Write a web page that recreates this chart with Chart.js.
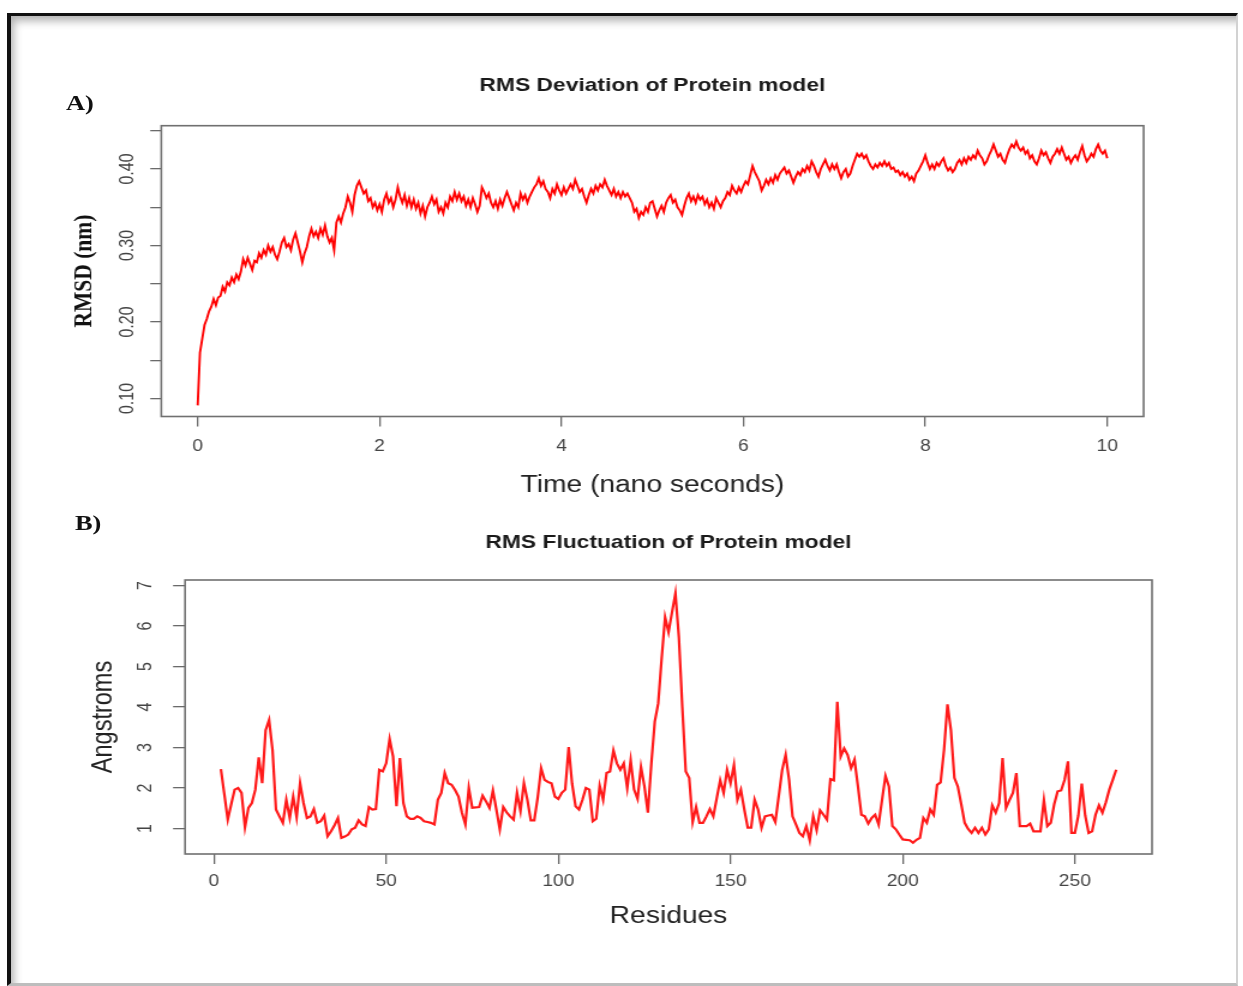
<!DOCTYPE html>
<html>
<head>
<meta charset="utf-8">
<script src="https://cdn.jsdelivr.net/npm/chart.js@4.4.1/dist/chart.umd.min.js"></script>
<style>
  html, body { margin: 0; padding: 0; background: #fff; }
  #page { position: relative; width: 1243px; height: 986px; overflow: hidden; background: #fff; }
  #frame { position: absolute; left: 7px; top: 13px; width: 1225px; height: 967px;
    border-top: 3px solid #111; border-left: 4px solid #111; border-right: 2px solid #d2d2d2; border-bottom: 3px solid #bdbdbd;
    box-shadow: inset 7px 9px 8px -4px rgba(0,0,0,0.30); }
  #stage { position: absolute; left: 0; top: 0; width: 1036px; height: 986px; transform: scaleX(1.2); transform-origin: 0 0; }
  #stage canvas { position: absolute; left: 0; }
  .panel { position: absolute; font-family: "Liberation Serif", serif; font-weight: bold; font-size: 22px; line-height: 22px; color: #111; }
</style>
</head>
<body>
<div id="page">
  <div id="frame"></div>
  <div id="stage">
    <canvas id="rmsd" width="1036" height="520" style="top:0px"></canvas>
    <canvas id="rmsf" width="1036" height="486" style="top:500px"></canvas>
    <div class="panel" style="left:55px;top:92px">A)</div>
    <div class="panel" style="left:62.5px;top:512px">B)</div>
  </div>
</div>
<script>
// ---------------- data ----------------
const rmsdTitle = 'RMS Deviation of Protein model';
const rmsdXTitle = 'Time (nano seconds)';
const rmsdYTitle = 'RMSD (nm)';
const rmsdTimeStep = 0.025; // ns between stored frames
const rmsdValues = [
  0.091,0.160,0.178,0.196,0.204,0.214,0.220,0.230,0.222,0.232,0.234,0.246,0.240,0.252,0.248,0.258,0.252,0.262,0.256,0.266,
  0.282,0.274,0.284,0.276,0.268,0.280,0.278,0.290,0.284,0.294,0.288,0.300,0.292,0.298,0.288,0.282,0.292,0.304,0.310,0.298,
  0.302,0.294,0.308,0.316,0.304,0.292,0.278,0.290,0.298,0.312,0.322,0.312,0.318,0.310,0.322,0.314,0.326,0.312,0.304,0.310,
  0.294,0.330,0.338,0.330,0.342,0.350,0.364,0.356,0.344,0.366,0.378,0.384,0.376,0.368,0.372,0.358,0.362,0.350,0.356,0.346,
  0.354,0.344,0.360,0.368,0.356,0.362,0.350,0.360,0.376,0.364,0.356,0.366,0.352,0.362,0.350,0.360,0.348,0.356,0.342,0.352,
  0.338,0.350,0.356,0.364,0.354,0.360,0.344,0.350,0.342,0.356,0.350,0.364,0.358,0.370,0.360,0.368,0.358,0.364,0.352,0.360,
  0.350,0.362,0.354,0.344,0.352,0.376,0.370,0.362,0.368,0.356,0.350,0.358,0.348,0.360,0.352,0.362,0.370,0.362,0.354,0.346,
  0.356,0.350,0.368,0.360,0.366,0.356,0.364,0.370,0.376,0.380,0.388,0.378,0.384,0.374,0.370,0.362,0.374,0.368,0.380,0.372,
  0.366,0.376,0.368,0.374,0.380,0.374,0.386,0.378,0.370,0.374,0.364,0.356,0.366,0.374,0.368,0.378,0.372,0.380,0.376,0.386,
  0.378,0.372,0.366,0.374,0.364,0.370,0.362,0.370,0.364,0.368,0.362,0.356,0.344,0.348,0.336,0.344,0.340,0.350,0.344,0.356,
  0.358,0.348,0.338,0.346,0.352,0.344,0.356,0.362,0.366,0.356,0.360,0.350,0.346,0.340,0.352,0.362,0.368,0.358,0.364,0.356,
  0.366,0.360,0.364,0.354,0.360,0.350,0.356,0.348,0.362,0.356,0.350,0.358,0.362,0.370,0.366,0.378,0.372,0.368,0.376,0.370,
  0.378,0.384,0.380,0.392,0.404,0.396,0.390,0.384,0.372,0.378,0.386,0.380,0.388,0.382,0.392,0.386,0.394,0.398,0.402,0.394,
  0.398,0.390,0.382,0.390,0.396,0.392,0.400,0.396,0.404,0.398,0.410,0.404,0.396,0.390,0.400,0.406,0.412,0.404,0.398,0.406,
  0.400,0.406,0.396,0.388,0.396,0.400,0.390,0.394,0.404,0.412,0.420,0.416,0.420,0.414,0.418,0.410,0.404,0.400,0.406,0.402,
  0.408,0.404,0.410,0.404,0.408,0.400,0.402,0.396,0.398,0.392,0.396,0.390,0.394,0.386,0.390,0.384,0.394,0.398,0.404,0.410,
  0.418,0.408,0.400,0.406,0.400,0.408,0.404,0.410,0.414,0.404,0.398,0.402,0.396,0.400,0.408,0.412,0.406,0.414,0.408,0.416,
  0.412,0.418,0.414,0.424,0.418,0.414,0.406,0.410,0.418,0.424,0.432,0.424,0.416,0.420,0.412,0.408,0.418,0.426,0.432,0.428,
  0.436,0.428,0.424,0.428,0.420,0.424,0.414,0.418,0.410,0.406,0.414,0.424,0.418,0.422,0.414,0.408,0.416,0.420,0.426,0.420,
  0.428,0.420,0.412,0.416,0.408,0.414,0.418,0.412,0.422,0.430,0.418,0.410,0.414,0.420,0.416,0.426,0.432,0.424,0.420,0.424,
  0.414
];
const rmsdXTicks = [0, 2, 4, 6, 8, 10];
const rmsdXTickLabels = ['0', '2', '4', '6', '8', '10'];
const rmsdYTicks = [0.10, 0.15, 0.20, 0.25, 0.30, 0.35, 0.40, 0.45];
const rmsdYTickLabels = ['0.10', '', '0.20', '', '0.30', '', '0.40', ''];

const rmsfTitle = 'RMS Fluctuation of Protein model';
const rmsfXTitle = 'Residues';
const rmsfYTitle = 'Angstroms';
const rmsfFirstResidue = 2;
const rmsfValues = [
  2.47,1.85,1.22,1.60,1.96,2.00,1.88,1.03,1.51,1.63,
  1.96,2.76,2.12,3.43,3.68,2.94,1.47,1.30,1.14,1.71,
  1.26,1.79,1.28,2.12,1.63,1.26,1.30,1.48,1.14,1.18,
  1.32,0.81,0.93,1.08,1.26,0.77,0.80,0.85,0.98,1.02,
  1.20,1.10,1.06,1.53,1.47,1.48,2.45,2.41,2.61,3.21,
  2.78,1.55,2.74,1.63,1.30,1.24,1.24,1.30,1.26,1.18,
  1.16,1.14,1.10,1.71,1.88,2.37,2.12,2.08,1.95,1.79,
  1.39,1.10,2.00,1.51,1.52,1.53,1.81,1.67,1.51,1.94,
  1.47,0.98,1.53,1.40,1.30,1.22,1.88,1.43,2.12,1.71,
  1.20,1.20,1.76,2.49,2.20,2.15,2.12,1.79,1.73,1.88,
  1.96,3.01,2.10,1.55,1.47,1.71,2.00,1.96,1.18,1.24,
  2.06,1.71,2.37,2.41,2.93,2.61,2.45,2.61,2.00,2.68,
  1.96,1.73,2.52,2.04,1.39,2.60,3.64,4.09,5.20,6.22,
  5.85,6.34,6.81,5.73,4.00,2.41,2.25,1.16,1.53,1.14,
  1.14,1.30,1.48,1.30,1.75,2.19,1.88,2.45,2.12,2.57,
  1.71,1.96,1.47,1.02,1.02,1.71,1.47,1.02,1.30,1.32,
  1.34,1.16,1.80,2.45,2.82,2.20,1.30,1.10,0.89,0.81,
  1.06,0.71,1.30,0.96,1.45,1.34,1.22,2.22,2.19,4.13,
  2.78,2.98,2.82,2.49,2.70,2.04,1.34,1.30,1.12,1.26,
  1.34,1.10,1.71,2.30,2.04,1.06,0.98,0.85,0.73,0.72,
  0.71,0.65,0.72,0.77,1.26,1.14,1.47,1.34,2.08,2.14,
  2.94,4.07,3.43,2.25,2.04,1.60,1.14,0.99,0.89,1.02,
  0.89,1.02,0.85,0.98,1.57,1.39,1.63,2.74,1.51,1.70,
  1.88,2.37,1.06,1.06,1.06,1.12,0.93,0.93,0.93,1.70,
  1.06,1.14,1.60,1.92,1.94,2.20,2.66,0.89,0.89,1.32,
  2.11,1.32,0.89,0.93,1.34,1.57,1.39,1.65,1.96,2.20,
  2.45
];
const rmsfXTicks = [0, 50, 100, 150, 200, 250];
const rmsfYTicks = [1, 2, 3, 4, 5, 6, 7];

// ---------------- derived ----------------
const rmsdTimes = rmsdValues.map((_, i) => +(i * rmsdTimeStep).toFixed(3));
const rmsfResidues = rmsfValues.map((_, i) => rmsfFirstResidue + i);

Chart.defaults.font.family = '"Liberation Sans", Arial, sans-serif';

const plotBox = {
  id: 'plotBox',
  afterDraw(chart) {
    const { ctx, chartArea: a } = chart;
    ctx.save();
    ctx.strokeStyle = '#707070';
    ctx.lineWidth = 1.6;
    ctx.strokeRect(a.left, a.top, a.right - a.left, a.bottom - a.top);
    ctx.restore();
  }
};

const tickFont = { family: '"Liberation Sans", Arial, sans-serif', size: 16 };
const tickColor = '#444';
const markColor = '#6a6a6a';

new Chart(document.getElementById('rmsd'), {
  type: 'line',
  data: {
    datasets: [{
      data: rmsdTimes.map((t, i) => ({ x: t, y: rmsdValues[i] })),
      borderColor: '#ff0000', borderWidth: 1.9, pointRadius: 0, tension: 0, fill: false
    }]
  },
  options: {
    responsive: false, animation: false, devicePixelRatio: 1,
    layout: { padding: { left: 54.4, right: 83, top: 74.6, bottom: 13.5 } },
    plugins: {
      legend: { display: false }, tooltip: { enabled: false },
      title: { display: true, text: rmsdTitle, fullSize: false, color: '#1a1a1a',
        font: { family: '"Liberation Sans", Arial, sans-serif', size: 19, weight: 'bold' },
        padding: { top: 0, bottom: 28.3 } }
    },
    scales: {
      x: {
        type: 'linear', min: -0.4, max: 10.4,
        afterFit(s) { s.height = 90; },
        afterBuildTicks(s) { s.ticks = rmsdXTicks.map(v => ({ value: v })); },
        grid: { drawOnChartArea: false, drawTicks: true, tickLength: 10, color: markColor, lineWidth: 1.3 },
        border: { display: false },
        ticks: { autoSkip: false, minRotation: 0, maxRotation: 0, padding: 10.9, color: tickColor, font: tickFont,
          callback: (v) => rmsdXTickLabels[rmsdXTicks.indexOf(v)] },
        title: { display: true, text: rmsdXTitle, color: '#222',
          font: { family: '"Liberation Sans", Arial, sans-serif', size: 23.5 }, padding: { top: 0, bottom: 6.4 } }
      },
      y: {
        type: 'linear', min: 0.0765, max: 0.4566,
        afterFit(s) { s.width = 80; },
        afterBuildTicks(s) { s.ticks = rmsdYTicks.map(v => ({ value: v })); },
        grid: { drawOnChartArea: false, drawTicks: true, tickLength: 9.2, color: markColor, lineWidth: 1.3 },
        border: { display: false },
        ticks: { autoSkip: false, minRotation: 90, maxRotation: 90, crossAlign: 'center', padding: 3.3, color: tickColor, font: tickFont,
          callback: (v) => rmsdYTickLabels[rmsdYTicks.indexOf(v)] },
        title: { display: true, text: rmsdYTitle, color: '#111',
          font: { family: '"Liberation Serif", serif', size: 21.5, weight: 'bold' }, padding: { top: 2.7, bottom: 0 } }
      }
    }
  },
  plugins: [plotBox]
});

new Chart(document.getElementById('rmsf'), {
  type: 'line',
  data: {
    datasets: [{
      data: rmsfResidues.map((r, i) => ({ x: r, y: rmsfValues[i] })),
      borderColor: '#ff1a1a', borderWidth: 2.2, pointRadius: 0, tension: 0, fill: false
    }]
  },
  options: {
    responsive: false, animation: false, devicePixelRatio: 1,
    layout: { padding: { left: 64.2, right: 76, top: 31.6, bottom: 32 } },
    plugins: {
      legend: { display: false }, tooltip: { enabled: false },
      title: { display: true, text: rmsfTitle, fullSize: false, color: '#1a1a1a',
        font: { family: '"Liberation Sans", Arial, sans-serif', size: 19, weight: 'bold' },
        padding: { top: 0, bottom: 25.6 } }
    },
    scales: {
      x: {
        type: 'linear', min: -8.4, max: 272.4,
        afterFit(s) { s.height = 100; },
        afterBuildTicks(s) { s.ticks = rmsfXTicks.map(v => ({ value: v })); },
        grid: { drawOnChartArea: false, drawTicks: true, tickLength: 10, color: markColor, lineWidth: 1.3 },
        border: { display: false },
        ticks: { autoSkip: false, minRotation: 0, maxRotation: 0, padding: 8.4, color: tickColor, font: tickFont,
          callback: (v) => String(v) },
        title: { display: true, text: rmsfXTitle, color: '#222',
          font: { family: '"Liberation Sans", Arial, sans-serif', size: 23.5 }, padding: { top: 0, bottom: 22.9 } }
      },
      y: {
        type: 'linear', min: 0.37, max: 7.14,
        afterFit(s) { s.width = 90; },
        afterBuildTicks(s) { s.ticks = rmsfYTicks.map(v => ({ value: v })); },
        grid: { drawOnChartArea: false, drawTicks: true, tickLength: 10, color: markColor, lineWidth: 1.3 },
        border: { display: false },
        ticks: { autoSkip: false, minRotation: 90, maxRotation: 90, crossAlign: 'center', padding: 17.9, color: tickColor, font: tickFont,
          callback: (v) => String(v) },
        title: { display: true, text: rmsfYTitle, color: '#222',
          font: { family: '"Liberation Sans", Arial, sans-serif', size: 23.5 }, padding: { top: 8.4, bottom: 0 } }
      }
    }
  },
  plugins: [plotBox]
});
</script>
</body>
</html>
